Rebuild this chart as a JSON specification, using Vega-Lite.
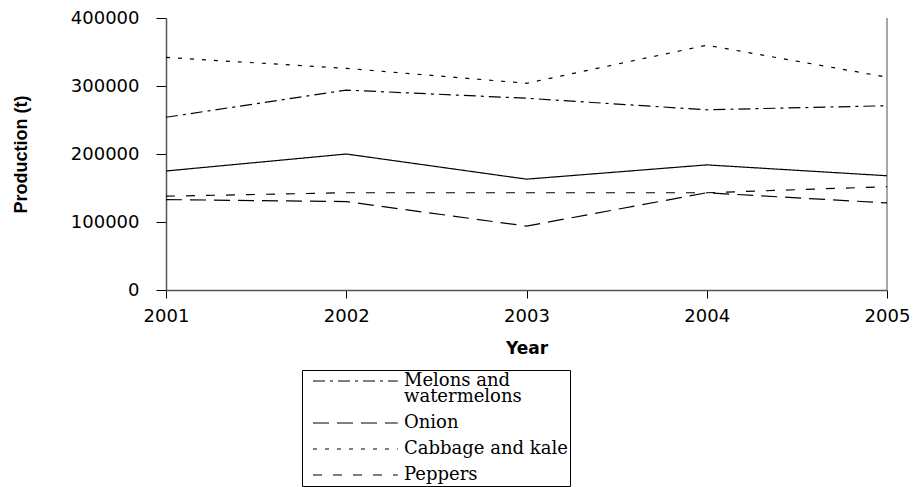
{
  "$schema": "https://vega.github.io/schema/vega-lite/v6.json",
  "width": 721,
  "height": 272,
  "autosize": {"type": "none"},
  "padding": {"left": 166, "top": 18, "right": 30, "bottom": 197},
  "background": "white",
  "config": {
    "view": {"stroke": null},
    "font": "Liberation Sans",
    "style": {"guide-label": {"lineHeight": 16}}
  },
  "data": {
    "values": [
      {"year": 2001, "crop": "Melons and watermelons", "production": 254000},
      {"year": 2002, "crop": "Melons and watermelons", "production": 294000},
      {"year": 2003, "crop": "Melons and watermelons", "production": 282000},
      {"year": 2004, "crop": "Melons and watermelons", "production": 265000},
      {"year": 2005, "crop": "Melons and watermelons", "production": 271000},
      {"year": 2001, "crop": "Onion", "production": 133000},
      {"year": 2002, "crop": "Onion", "production": 130000},
      {"year": 2003, "crop": "Onion", "production": 94000},
      {"year": 2004, "crop": "Onion", "production": 143000},
      {"year": 2005, "crop": "Onion", "production": 128000},
      {"year": 2001, "crop": "Cabbage and kale", "production": 342000},
      {"year": 2002, "crop": "Cabbage and kale", "production": 326000},
      {"year": 2003, "crop": "Cabbage and kale", "production": 304000},
      {"year": 2004, "crop": "Cabbage and kale", "production": 360000},
      {"year": 2005, "crop": "Cabbage and kale", "production": 313000},
      {"year": 2001, "crop": "Peppers", "production": 138000},
      {"year": 2002, "crop": "Peppers", "production": 143000},
      {"year": 2003, "crop": "Peppers", "production": 143000},
      {"year": 2004, "crop": "Peppers", "production": 143000},
      {"year": 2005, "crop": "Peppers", "production": 152000},
      {"year": 2001, "crop": "Other", "production": 175000},
      {"year": 2002, "crop": "Other", "production": 200000},
      {"year": 2003, "crop": "Other", "production": 163000},
      {"year": 2004, "crop": "Other", "production": 184000},
      {"year": 2005, "crop": "Other", "production": 168000}
    ]
  },
  "layer": [
    {
      "mark": {"type": "rule", "color": "#888888", "strokeWidth": 1.5},
      "data": {"values": [{"year": 2005, "lo": 0, "hi": 400000}]},
      "encoding": {
        "x": {"field": "year", "type": "quantitative"},
        "y": {"field": "lo", "type": "quantitative"},
        "y2": {"field": "hi"}
      }
    },
    {
      "mark": {"type": "line", "color": "black", "strokeCap": "butt"},
      "encoding": {
        "x": {
          "field": "year", "type": "quantitative",
          "scale": {"domain": [2001, 2005], "zero": false, "nice": false},
          "axis": {
            "title": "Year",
            "values": [2001, 2002, 2003, 2004, 2005],
            "format": "d",
            "grid": false,
            "labelFont": "DejaVu Sans",
            "labelFontSize": 18,
            "labelColor": "black",
            "labelPadding": 9,
            "labelFlush": false,
            "labelOverlap": false,
            "tickSize": 8,
            "tickColor": "black",
            "domainColor": "#555555",
            "domainWidth": 1.5,
            "titleFont": "DejaVu Sans",
            "titleFontSize": 17,
            "titleFontWeight": "bold",
            "titleColor": "black",
            "titlePadding": 15
          }
        },
        "y": {
          "field": "production", "type": "quantitative",
          "scale": {"domain": [0, 400000], "nice": false},
          "axis": {
            "title": "Production (t)",
            "values": [0, 50000, 100000, 150000, 200000, 250000, 300000, 350000, 400000],
            "format": "d",
            "grid": false,
            "labelFont": "DejaVu Sans",
            "labelFontSize": 18,
            "labelColor": "black",
            "labelPadding": 17,
            "labelOverlap": false,
            "tickSize": 10,
            "tickColor": "black",
            "domainColor": "#555555",
            "domainWidth": 1.5,
            "titleFont": "Liberation Sans",
            "titleFontSize": 18,
            "titleFontWeight": "bold",
            "titleColor": "black",
            "titlePadding": 40
          }
        },
        "detail": {"field": "crop"},
        "strokeDash": {
          "field": "crop", "type": "nominal",
          "scale": {
            "domain": ["Melons and watermelons", "Onion", "Cabbage and kale", "Peppers", "Other"],
            "range": [[12, 5, 3, 5], [16, 8], [4, 8], [9, 11], [1, 0]]
          },
          "legend": {
            "title": null,
            "values": ["Melons and watermelons", "Onion", "Cabbage and kale", "Peppers"],
            "orient": "none",
            "legendX": 136,
            "legendY": 352,
            "symbolType": "M0,0H10.6",
            "symbolSize": 256,
            "symbolStrokeColor": "black",
            "labelFont": "DejaVu Serif",
            "labelFontSize": 18,
            "labelColor": "black",
            "labelOffset": 82,
            "labelLimit": 400,
            "labelExpr": "datum.label == 'Melons and watermelons' ? ['Melons and', 'watermelons'] : datum.label",
            "strokeColor": "black",
            "padding": 2,
            "rowPadding": 8
          }
        },
        "strokeWidth": {
          "field": "crop", "type": "nominal",
          "scale": {
            "domain": ["Melons and watermelons", "Onion", "Cabbage and kale", "Peppers", "Other"],
            "range": [1.2, 1.2, 1.2, 3, 1.2]
          },
          "legend": {
            "title": null,
            "values": ["Melons and watermelons", "Onion", "Cabbage and kale", "Peppers"],
            "orient": "none",
            "legendX": 136,
            "legendY": 352,
            "symbolType": "M0,0H10.6",
            "symbolSize": 256,
            "symbolStrokeColor": "black",
            "labelFont": "DejaVu Serif",
            "labelFontSize": 18,
            "labelColor": "black",
            "labelOffset": 82,
            "labelLimit": 400,
            "labelExpr": "datum.label == 'Melons and watermelons' ? ['Melons and', 'watermelons'] : datum.label",
            "strokeColor": "black",
            "padding": 2,
            "rowPadding": 8
          }
        }
      }
    }
  ]
}
